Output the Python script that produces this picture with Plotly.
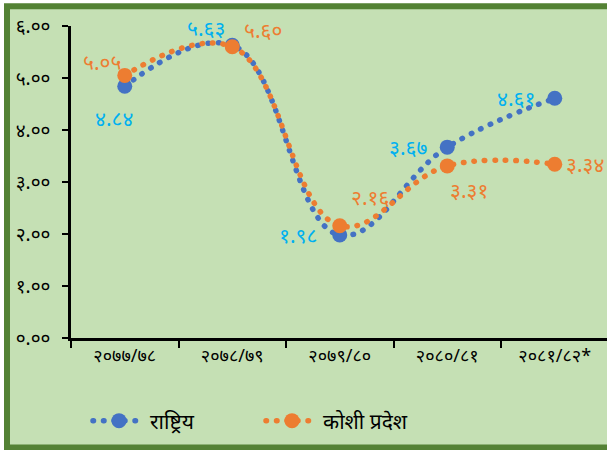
import plotly.graph_objects as go

categories = ["२०७७/७८", "२०७८/७९", "२०७९/८०", "२०८०/८१", "२०८१/८२*"]
national = [4.84, 5.63, 1.98, 3.67, 4.61]
koshi = [5.05, 5.60, 2.16, 3.31, 3.34]
national_labels = ["४.८४", "५.६३", "१.९८", "३.६७", "४.६१"]
koshi_labels = ["५.०५", "५.६०", "२.१६", "३.३१", "३.३४"]
y_ticks = [0, 1, 2, 3, 4, 5, 6]
y_ticktext = ["०.००", "१.००", "२.००", "३.००", "४.००", "५.००", "६.००"]
series_names = ["राष्ट्रिय", "कोशी प्रदेश"]

BLUE = "#4472c4"
ORANGE = "#ed7d31"
LBLUE = "#00b0f0"
FONT = "Noto Sans, DejaVu Sans, sans-serif"

fig = go.Figure()
for name, vals, col in [(series_names[0], national, BLUE), (series_names[1], koshi, ORANGE)]:
    fig.add_trace(go.Scatter(
        x=categories, y=vals, name=name, mode="lines+markers",
        line=dict(color=col, width=5.5, dash="0.5px,10px", shape="spline", smoothing=1.15),
        marker=dict(color=col, size=15), cliponaxis=False,
    ))

nat_shift = [(-11, -32), (-26, 17), (-42, 0), (-39, 0), (-39, 0)]
kos_shift = [(-23, 13), (31, 17), (30, 29), (22, -24), (30, 0)]
ann = []
for i, c in enumerate(categories):
    ann.append(dict(x=c, y=national[i], xref="x", yref="y", text=national_labels[i],
                    showarrow=False, xshift=nat_shift[i][0], yshift=nat_shift[i][1],
                    font=dict(color=LBLUE, size=21, family=FONT)))
    ann.append(dict(x=c, y=koshi[i], xref="x", yref="y", text=koshi_labels[i],
                    showarrow=False, xshift=kos_shift[i][0], yshift=kos_shift[i][1],
                    font=dict(color=ORANGE, size=21, family=FONT)))

L, T, B = 71, 26, 112
W, H = 607, 450
pw = W - L
ph = H - T - B

def px_to_paper_x(px):
    return (px - L) / pw

def px_to_paper_y(py):
    return (H - B - py) / ph

fig.update_layout(
    width=W, height=H,
    margin=dict(l=L, r=0, t=T, b=B),
    paper_bgcolor="white",
    plot_bgcolor="rgba(0,0,0,0)",
    font=dict(family=FONT, color="black"),
    showlegend=True,
    legend=dict(orientation="h", x=px_to_paper_x(88), y=px_to_paper_y(421),
                xanchor="left", yanchor="middle", font=dict(size=21, color="black"),
                bgcolor="rgba(0,0,0,0)", itemwidth=52, entrywidth=106,
                entrywidthmode="pixels"),
    annotations=ann,
    shapes=[dict(type="rect", xref="paper", yref="paper", layer="below",
                 x0=px_to_paper_x(7), x1=px_to_paper_x(612),
                 y0=px_to_paper_y(447.5), y1=px_to_paper_y(6.3),
                 fillcolor="#c5e0b4", line=dict(color="#548235", width=6))],
    xaxis=dict(type="category", range=[-0.5, -0.5 + pw / 107.5], tickson="boundaries",
               showline=True, linecolor="black", linewidth=2.5, ticks="outside",
               ticklen=7, tickwidth=2, tickcolor="black", showgrid=False, zeroline=False,
               tickfont=dict(size=18, color="black"), fixedrange=True, automargin=False),
    yaxis=dict(range=[0, 6], tickvals=y_ticks, ticktext=y_ticktext,
               showline=True, linecolor="black", linewidth=2.5, ticks="outside",
               ticklen=6, tickwidth=2, tickcolor="black", showgrid=False, zeroline=False,
               tickfont=dict(size=19, color="black"), ticklabelstandoff=8, automargin=False),
)

post = (
    "document.body.style.margin='0';document.body.style.overflow='hidden';"
    "document.querySelectorAll('.js-line').forEach(function(p){p.style.strokeLinecap='round';});"
)
fig.write_html("out.html", config={"displayModeBar": False}, post_script=post)
